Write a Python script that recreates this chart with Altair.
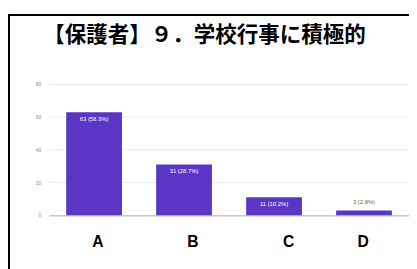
import altair as alt
import pandas as pd

categories = ["A", "B", "C", "D"]
counts = [63, 31, 11, 3]
labels = ["63 (58.3%)", "31 (28.7%)", "11 (10.2%)", "3 (2.8%)"]
y_ticks = [0, 20, 40, 60, 80]
title_text = ["【保護者】９．学校行事に積極的"]

df = pd.DataFrame({"cat": categories, "n": counts, "lab": labels})
tdf = pd.DataFrame({"t": title_text})
ydf = pd.DataFrame({"v": y_ticks})

W, H = 368, 134

x = alt.X("cat:N", sort=categories, title=None,
          scale=alt.Scale(paddingInner=0.38, paddingOuter=0.19),
          axis=alt.Axis(labelAngle=0, labelFont="Liberation Sans", labelFontWeight="bold",
                        labelFontSize=16, labelColor="#000", labelPadding=19,
                        labelOffset=alt.ExprRef(
                            "datum.value == 'A' ? 4 : datum.value == 'B' ? 9 : datum.value == 'C' ? 15 : -1"),
                        ticks=False, domainColor="#aaaaaa", domainWidth=1, grid=False))
yscale = alt.Scale(domain=[0, 80])
y = alt.Y("n:Q", title=None, scale=yscale, axis=None)

grid = alt.Chart(ydf).transform_filter("datum.v > 0").mark_rule(
    color="#e8e8e8", strokeWidth=1).encode(
    y=alt.Y("v:Q", scale=yscale, axis=None), x=alt.value(0), x2=alt.value(W))
ylabels = alt.Chart(ydf).mark_text(
    fontSize=5, color="#888888", align="right", baseline="middle").encode(
    y=alt.Y("v:Q", scale=yscale, axis=None), x=alt.value(-8), text="v:Q")

base = alt.Chart(df)
bars = base.mark_bar(color="#5b36c4").encode(x=x, y=y)
inside = base.transform_filter("datum.n >= 8").mark_text(
    color="white", fontSize=6, baseline="top", dy=4).encode(x=x, y=y, text="lab:N")
outside = base.transform_filter("datum.n < 8").mark_text(
    color="#666666", fontSize=6, baseline="bottom", dy=-6).encode(x=x, y=y, text="lab:N")

top_border = base.mark_rule(color="black", strokeWidth=2).encode(
    x=alt.value(-42), x2=alt.value(W + 10), y=alt.value(-71))
left_border = base.mark_rule(color="black", strokeWidth=2).encode(
    x=alt.value(-41), y=alt.value(-72), y2=alt.value(H + 70))

title = alt.Chart(tdf).mark_text(
    font="Noto Sans CJK JP", fontWeight="bold", fontSize=22, color="#000",
    align="left", baseline="bottom").encode(
    text="t:N", x=alt.value(-6), y=alt.value(-38))

chart = alt.layer(grid, ylabels, bars, inside, outside, top_border, left_border, title).properties(
    width=W, height=H,
    autosize=alt.AutoSizeParams(type="none"),
    padding={"left": 42, "top": 75, "right": 0, "bottom": 60},
).configure_view(stroke=None)

chart.save("out.html", embed_options={"renderer": "svg", "actions": False})
